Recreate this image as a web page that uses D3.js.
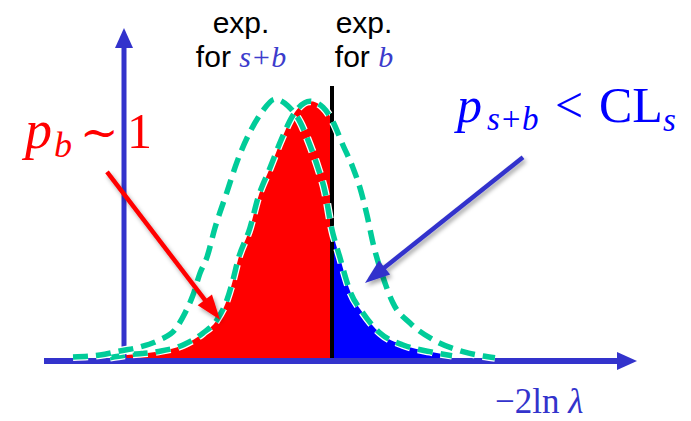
<!DOCTYPE html>
<html>
<head>
<meta charset="utf-8">
<script src="https://cdn.jsdelivr.net/npm/d3@7"></script>
<style>
  body { margin: 0; background: #fff; }
  svg { display: block; }
</style>
</head>
<body>
<div id="chart"></div>
<script>
// -2 ln(lambda) on x, density on y
const xSB = [-1.02, -0.48, -0.08, 0.32, 0.72, 1.02, 1.22, 1.38, 1.52, 1.66, 1.82, 2.06, 2.26, 2.52, 2.76, 3.02, 3.28, 3.52, 3.72, 3.88, 4.02, 4.14, 4.32, 4.52, 4.78, 5.12, 5.58, 6.12, 6.56];
const ySB = [0.006, 0.009, 0.015, 0.021, 0.032, 0.047, 0.072, 0.099, 0.132, 0.156, 0.200, 0.254, 0.299, 0.344, 0.374, 0.393, 0.383, 0.359, 0.324, 0.290, 0.254, 0.204, 0.155, 0.105, 0.072, 0.042, 0.024, 0.014, 0.008];

const xB = [-0.28, 0.06, 0.66, 1.18, 1.58, 1.86, 2.06, 2.18, 2.28, 2.52, 2.68, 2.92, 3.16, 3.38, 3.72, 3.98, 4.18, 4.38, 4.58, 4.72, 4.86, 4.98, 5.18, 5.38, 5.72, 6.18, 6.78, 7.42];
const yB = [0.005, 0.009, 0.014, 0.024, 0.042, 0.062, 0.092, 0.122, 0.152, 0.200, 0.245, 0.290, 0.335, 0.369, 0.390, 0.381, 0.359, 0.324, 0.290, 0.260, 0.219, 0.177, 0.126, 0.087, 0.057, 0.032, 0.014, 0.005];

// observed value of the test statistic
const observed = 4.16;
const observedTop = 0.413;

// annotation arrows [from, to] in data units
const redArrow = [[-0.34, 0.284], [1.92, 0.062]];
const blueArrow = [[7.98, 0.306], [4.82, 0.117]];

const width = 691, height = 421;
const axisColor = "#3333cc";
const green = "#00cc99";
const serif = "'Liberation Serif', 'Times New Roman', serif";
const sans = "'Liberation Sans', Arial, sans-serif";

const xScale = d3.scaleLinear().domain([-1.6, 10.26]).range([44, 637]);
const yScale = d3.scaleLinear().domain([0, 0.5]).range([361, 28]);

const sb = xSB.map((x, i) => [x, ySB[i]]);
const bg = xB.map((x, i) => [x, yB[i]]);

const svg = d3.select("#chart").append("svg")
  .attr("width", width)
  .attr("height", height);

const defs = svg.append("defs");
defs.append("clipPath").attr("id", "left")
  .append("rect").attr("x", 0).attr("y", 0)
  .attr("width", xScale(observed)).attr("height", height);
defs.append("clipPath").attr("id", "right")
  .append("rect").attr("x", xScale(observed)).attr("y", 0)
  .attr("width", width - xScale(observed)).attr("height", height);
const shadow = defs.append("filter").attr("id", "shadow")
  .attr("x", "-20%").attr("y", "-20%").attr("width", "140%").attr("height", "140%");
shadow.append("feDropShadow")
  .attr("dx", 2).attr("dy", 3).attr("stdDeviation", 2)
  .attr("flood-color", "#000").attr("flood-opacity", 0.35);

const area = d3.area()
  .x((d) => xScale(d[0]))
  .y0(yScale(0))
  .y1((d) => yScale(d[1]))
  .curve(d3.curveMonotoneX);
const line = d3.line()
  .x((d) => xScale(d[0]))
  .y((d) => yScale(d[1]))
  .curve(d3.curveMonotoneX);

// 1 - p_b : under b curve left of observed; p_s+b : under s+b curve right of it
svg.append("path").attr("d", area(bg)).attr("fill", "#ff0000").attr("clip-path", "url(#left)");
svg.append("path").attr("d", area(sb)).attr("fill", "#0000ff").attr("clip-path", "url(#right)");

// observed line
svg.append("line")
  .attr("x1", xScale(observed)).attr("x2", xScale(observed))
  .attr("y1", yScale(observedTop)).attr("y2", yScale(0))
  .attr("stroke", "#000").attr("stroke-width", 4);

// axes
const x0 = xScale.range()[0], x1 = xScale.range()[1];
const yBase = yScale(0), yTop = yScale.range()[1];
const xAxisPos = xScale(0);
svg.append("line")
  .attr("x1", x0).attr("x2", x1 - 18).attr("y1", yBase).attr("y2", yBase)
  .attr("stroke", axisColor).attr("stroke-width", 6);
svg.append("path")
  .attr("d", `M${x1},${yBase}L${x1 - 20},${yBase - 9}L${x1 - 20},${yBase + 9}Z`)
  .attr("fill", axisColor);
svg.append("line")
  .attr("x1", xAxisPos).attr("x2", xAxisPos).attr("y1", yBase).attr("y2", yTop + 18)
  .attr("stroke", axisColor).attr("stroke-width", 5);
svg.append("path")
  .attr("d", `M${xAxisPos},${yTop}L${xAxisPos - 9},${yTop + 20}L${xAxisPos + 9},${yTop + 20}Z`)
  .attr("fill", axisColor);

// dashed curves with white halo
[bg, sb].forEach((data) => {
  svg.append("path").attr("d", line(data))
    .attr("fill", "none").attr("stroke", "#fff")
    .attr("stroke-width", 8).attr("stroke-dasharray", "15,8");
  svg.append("path").attr("d", line(data))
    .attr("fill", "none").attr("stroke", green)
    .attr("stroke-width", 5.5).attr("stroke-dasharray", "15,8");
});

// annotation arrows
const drawArrow = (pts, color) => {
  const [sx, sy] = [xScale(pts[0][0]), yScale(pts[0][1])];
  const [tx, ty] = [xScale(pts[1][0]), yScale(pts[1][1])];
  const len = Math.hypot(tx - sx, ty - sy);
  const ux = (tx - sx) / len, uy = (ty - sy) / len;
  const head = 25, half = 9;
  const bx = tx - ux * head, by = ty - uy * head;
  const g = svg.append("g").attr("filter", "url(#shadow)");
  g.append("line")
    .attr("x1", sx).attr("y1", sy).attr("x2", bx + ux * 2).attr("y2", by + uy * 2)
    .attr("stroke", color).attr("stroke-width", 4.5);
  g.append("path")
    .attr("d", `M${tx},${ty}L${bx - uy * half},${by + ux * half}L${bx + uy * half},${by - ux * half}Z`)
    .attr("fill", color);
};
drawArrow(redArrow, "#ff0000");
drawArrow(blueArrow, axisColor);

// labels
const addExp = (cx, italic) => {
  svg.append("text").attr("x", cx).attr("y", 33)
    .attr("text-anchor", "middle").attr("font-family", sans).attr("font-size", 30)
    .text("exp.");
  const t = svg.append("text").attr("x", cx).attr("y", 67)
    .attr("text-anchor", "middle").attr("font-family", sans).attr("font-size", 30);
  t.append("tspan").text("for ");
  t.append("tspan").attr("font-family", serif).attr("font-style", "italic")
    .attr("fill", "#3c3ccc").text(italic);
};
addExp(241, "s+b");
addExp(364, "b");

const pb = svg.append("text").attr("y", 148).attr("fill", "#ff0000")
  .attr("font-family", serif).attr("font-size", 54);
pb.append("tspan").attr("x", 25).attr("font-style", "italic").text("p");
pb.append("tspan").attr("x", 54).attr("dy", 9).attr("font-size", 36).attr("font-style", "italic").text("b");
pb.append("tspan").attr("x", 80).attr("dy", -9).attr("font-family", "'DejaVu Serif', serif")
  .attr("font-size", 46).text("\u223c");
pb.append("tspan").attr("x", 127).attr("font-size", 50).text("1");

const ps = svg.append("text").attr("y", 122).attr("fill", "#0000ff")
  .attr("font-family", serif).attr("font-size", 50);
ps.append("tspan").attr("x", 457).attr("font-style", "italic").text("p");
ps.append("tspan").attr("x", 487).attr("dy", 8).attr("font-size", 33).attr("font-style", "italic").text("s+b");
ps.append("tspan").attr("x", 555).attr("dy", -8).text("<");
ps.append("tspan").attr("x", 599).text("CL");
ps.append("tspan").attr("x", 663).attr("dy", 9).attr("font-size", 33).attr("font-style", "italic").text("s");

const xl = svg.append("text").attr("x", 495).attr("y", 413).attr("fill", axisColor)
  .attr("font-family", serif).attr("font-size", 35);
xl.append("tspan").text("\u22122ln ");
xl.append("tspan").attr("font-style", "italic").text("\u03bb");
</script>
</body>
</html>
